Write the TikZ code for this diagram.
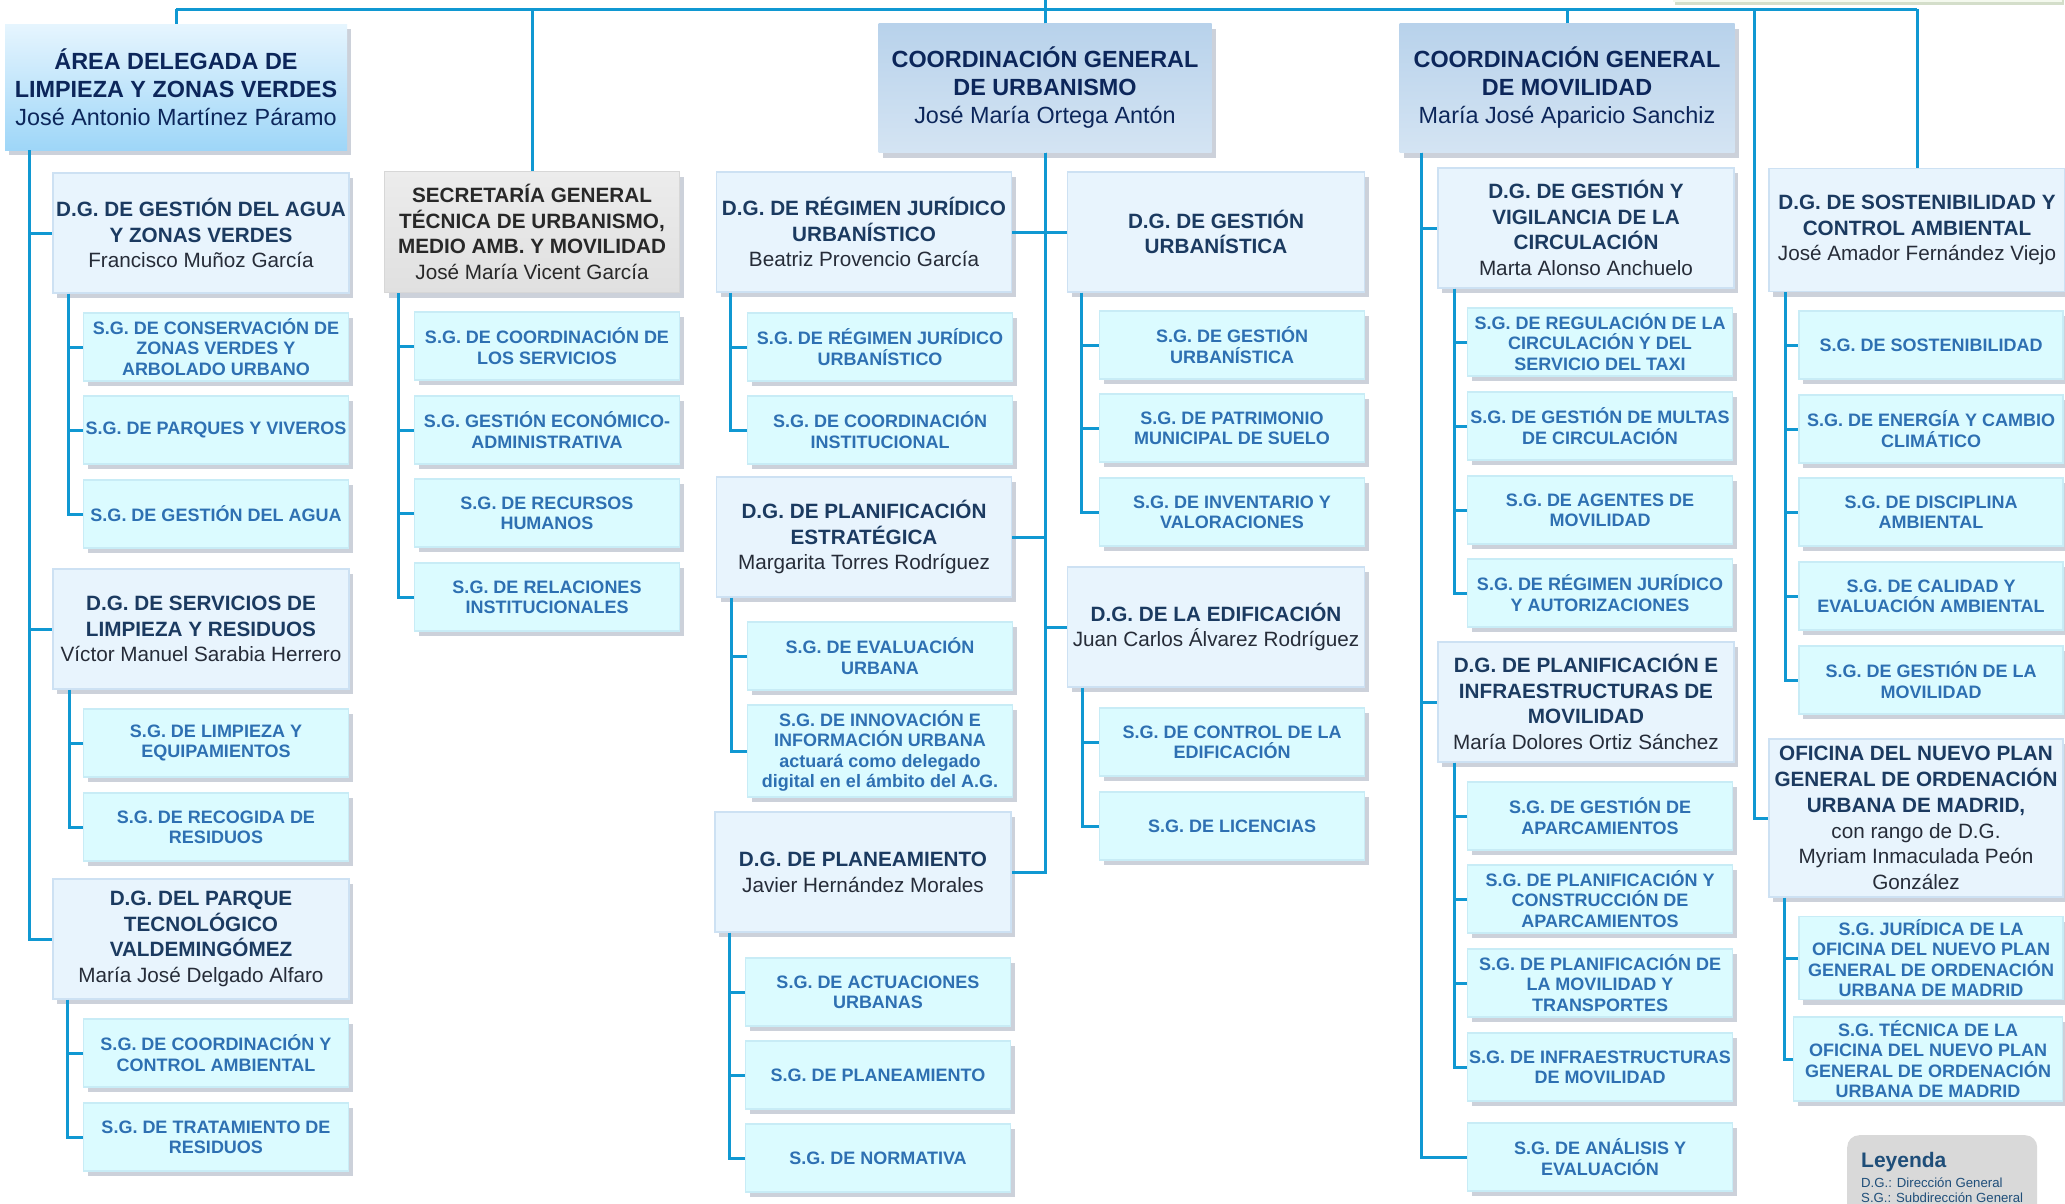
\documentclass[tikz,border=0pt]{standalone}
\usepackage{fontspec}
\setmainfont{Liberation Sans}
\usetikzlibrary{shadows}

\definecolor{linecol}{RGB}{16,152,210}
\definecolor{topcol}{RGB}{12,38,90}
\definecolor{dgcol}{RGB}{27,58,96}
\definecolor{namecol}{RGB}{38,44,56}
\definecolor{sgcol}{RGB}{46,112,178}
\definecolor{seccol}{RGB}{40,40,40}
\definecolor{legcol}{RGB}{31,78,121}
\definecolor{shadowcol}{RGB}{110,125,150}
\definecolor{greenshadow}{RGB}{170,190,150}
\definecolor{dgfill}{RGB}{232,244,253}
\definecolor{dgline}{RGB}{205,225,243}
\definecolor{sgfill}{RGB}{219,251,255}
\definecolor{sgline}{RGB}{200,236,246}
\definecolor{legfill}{RGB}{217,217,217}
\definecolor{palegreen}{RGB}{244,249,238}

\newcommand{\persona}[1]{{\mdseries #1}}
\newcommand{\dgpersona}[1]{{\mdseries\color{namecol}#1}}

\tikzset{
  conn/.style={draw=linecol, line width=3pt},
  box/.style={rectangle, align=center, inner sep=0pt,
    drop shadow={shadow xshift=4pt, shadow yshift=-5pt, fill=shadowcol, opacity=.35}},
  topbox/.style={box, text=topcol, font=\fontsize{23.4}{28}\selectfont\bfseries},
  areabox/.style={topbox, top color={rgb,255:red,230;green,245;blue,254}, bottom color={rgb,255:red,158;green,214;blue,248}},
  coordbox/.style={topbox, top color={rgb,255:red,184;green,210;blue,235}, bottom color={rgb,255:red,212;green,228;blue,243}},
  dgbox/.style={box, fill=dgfill, draw=dgline, line width=1.5pt, text=dgcol,
    minimum width=296pt, minimum height=120pt, font=\fontsize{20.7}{25.8}\selectfont\bfseries},
  secbox/.style={dgbox, fill=none, top color={rgb,255:red,236;green,236;blue,236}, bottom color={rgb,255:red,224;green,224;blue,224}, draw={rgb,255:red,215;green,215;blue,215}, text=seccol},
  sgbox/.style={box, fill=sgfill, draw=sgline, line width=1.5pt, text=sgcol,
    minimum width=265pt, minimum height=68pt, font=\fontsize{18}{20.4}\selectfont\bfseries},
  legbox/.style={rectangle, fill=legfill, rounded corners=12pt, inner sep=0pt},
  legtext/.style={anchor=base west, inner sep=0pt, text=legcol}
}

\begin{document}
\begin{tikzpicture}[x=1pt,y=-1pt]
\path[use as bounding box, fill=white] (0,0) rectangle (2065,1203);

% upper box, cut off by the page
\path[fill=palegreen, drop shadow={shadow xshift=2pt, shadow yshift=-3pt, fill=greenshadow, opacity=.5}] (1673,-40) rectangle (2062,2);

\coordinate (top0) at (0,0);
\coordinate (top) at (0,9);
\coordinate (ofitop) at (1754,9);

% cabeceras
\node[areabox, minimum width=342pt, minimum height=126pt] (area) at (176,87)
  {ÁREA DELEGADA DE\\LIMPIEZA Y ZONAS VERDES\\\persona{José Antonio Martínez Páramo}};
\node[secbox, minimum width=295pt, minimum height=121pt] (sec) at (532,232)
  {SECRETARÍA GENERAL\\TÉCNICA DE URBANISMO,\\MEDIO AMB. Y MOVILIDAD\\\persona{José María Vicent García}};
\node[coordbox, minimum width=333pt, minimum height=129pt] (urb) at (1045,88)
  {COORDINACIÓN GENERAL\\DE URBANISMO\\\persona{José María Ortega Antón}};
\node[coordbox, minimum width=335pt, minimum height=129pt] (mov) at (1567,88)
  {COORDINACIÓN GENERAL\\DE MOVILIDAD\\\persona{María José Aparicio Sanchiz}};

% limpieza y zonas verdes
\node[dgbox] (dgagua) at (201,233)
  {D.G. DE GESTIÓN DEL AGUA\\Y ZONAS VERDES\\\dgpersona{Francisco Muñoz García}};
\node[sgbox] (sgcons) at (216,347) {S.G. DE CONSERVACIÓN DE\\ZONAS VERDES Y\\ARBOLADO URBANO};
\node[sgbox] (sgparq) at (216,430) {S.G. DE PARQUES Y VIVEROS};
\node[sgbox] (sgagua) at (216,514) {S.G. DE GESTIÓN DEL AGUA};
\node[dgbox] (dglimp) at (201,629)
  {D.G. DE SERVICIOS DE\\LIMPIEZA Y RESIDUOS\\\dgpersona{Víctor Manuel Sarabia Herrero}};
\node[sgbox] (sglimp) at (216,743) {S.G. DE LIMPIEZA Y\\EQUIPAMIENTOS};
\node[sgbox] (sgrecog) at (216,827) {S.G. DE RECOGIDA DE\\RESIDUOS};
\node[dgbox] (dgparque) at (201,939)
  {D.G. DEL PARQUE\\TECNOLÓGICO\\VALDEMINGÓMEZ\\\dgpersona{María José Delgado Alfaro}};
\node[sgbox] (sgcoord) at (216,1053) {S.G. DE COORDINACIÓN Y\\CONTROL AMBIENTAL};
\node[sgbox] (sgtrat) at (216,1137) {S.G. DE TRATAMIENTO DE\\RESIDUOS};

% secretaria general tecnica
\node[sgbox] (sgcserv) at (547,346) {S.G. DE COORDINACIÓN DE\\LOS SERVICIOS};
\node[sgbox] (sgeco) at (547,430) {S.G. GESTIÓN ECONÓMICO-\\ADMINISTRATIVA};
\node[sgbox] (sgrrhh) at (547,513) {S.G. DE RECURSOS\\HUMANOS};
\node[sgbox] (sgrel) at (547,597) {S.G. DE RELACIONES\\INSTITUCIONALES};

% urbanismo
\node[dgbox, minimum width=295pt] (dgrj) at (864,232)
  {D.G. DE RÉGIMEN JURÍDICO\\URBANÍSTICO\\\dgpersona{Beatriz Provencio García}};
\node[sgbox] (sgrju) at (880,347) {S.G. DE RÉGIMEN JURÍDICO\\URBANÍSTICO};
\node[sgbox] (sgcinst) at (880,430) {S.G. DE COORDINACIÓN\\INSTITUCIONAL};
\node[dgbox, minimum width=295pt] (dgpe) at (864,537)
  {D.G. DE PLANIFICACIÓN\\ESTRATÉGICA\\\dgpersona{Margarita Torres Rodríguez}};
\node[sgbox] (sgeval) at (880,656) {S.G. DE EVALUACIÓN\\URBANA};
\node[sgbox, minimum height=92pt] (sginnov) at (880,751)
  {S.G. DE INNOVACIÓN E\\INFORMACIÓN URBANA\\actuará como delegado\\digital en el ámbito del A.G.};
\node[dgbox] (dgplan) at (863,872)
  {D.G. DE PLANEAMIENTO\\\dgpersona{Javier Hernández Morales}};
\node[sgbox] (sgactu) at (878,992) {S.G. DE ACTUACIONES\\URBANAS};
\node[sgbox] (sgplan) at (878,1075) {S.G. DE PLANEAMIENTO};
\node[sgbox] (sgnorm) at (878,1158) {S.G. DE NORMATIVA};

\node[dgbox, minimum width=297pt] (dggu) at (1216,232) {D.G. DE GESTIÓN\\URBANÍSTICA};
\node[sgbox] (sggu) at (1232,345) {S.G. DE GESTIÓN\\URBANÍSTICA};
\node[sgbox] (sgpatr) at (1232,428) {S.G. DE PATRIMONIO\\MUNICIPAL DE SUELO};
\node[sgbox] (sginv) at (1232,512) {S.G. DE INVENTARIO Y\\VALORACIONES};
\node[dgbox, minimum width=297pt] (dgedif) at (1216,627)
  {D.G. DE LA EDIFICACIÓN\\\dgpersona{Juan Carlos Álvarez Rodríguez}};
\node[sgbox] (sgcedif) at (1232,742) {S.G. DE CONTROL DE LA\\EDIFICACIÓN};
\node[sgbox] (sglic) at (1232,826) {S.G. DE LICENCIAS};

% movilidad
\node[dgbox] (dggv) at (1586,228)
  {D.G. DE GESTIÓN Y\\VIGILANCIA DE LA\\CIRCULACIÓN\\\dgpersona{Marta Alonso Anchuelo}};
\node[sgbox] (sgreg) at (1600,342) {S.G. DE REGULACIÓN DE LA\\CIRCULACIÓN Y DEL\\SERVICIO DEL TAXI};
\node[sgbox] (sgmult) at (1600,426) {S.G. DE GESTIÓN DE MULTAS\\DE CIRCULACIÓN};
\node[sgbox] (sgagen) at (1600,510) {S.G. DE AGENTES DE\\MOVILIDAD};
\node[sgbox] (sgrja) at (1600,593) {S.G. DE RÉGIMEN JURÍDICO\\Y AUTORIZACIONES};
\node[dgbox] (dgpi) at (1586,702)
  {D.G. DE PLANIFICACIÓN E\\INFRAESTRUCTURAS DE\\MOVILIDAD\\\dgpersona{María Dolores Ortiz Sánchez}};
\node[sgbox] (sgapar) at (1600,816) {S.G. DE GESTIÓN DE\\APARCAMIENTOS};
\node[sgbox] (sgpcons) at (1600,899) {S.G. DE PLANIFICACIÓN Y\\CONSTRUCCIÓN DE\\APARCAMIENTOS};
\node[sgbox] (sgpmov) at (1600,983) {S.G. DE PLANIFICACIÓN DE\\LA MOVILIDAD Y\\TRANSPORTES};
\node[sgbox] (sginfra) at (1600,1067) {S.G. DE INFRAESTRUCTURAS\\DE MOVILIDAD};
\node[sgbox] (sganal) at (1600,1157) {S.G. DE ANÁLISIS Y\\EVALUACIÓN};

% sostenibilidad y oficina del plan
\node[dgbox, minimum height=123pt] (dgsost) at (1917,230)
  {D.G. DE SOSTENIBILIDAD Y\\CONTROL AMBIENTAL\\\dgpersona{José Amador Fernández Viejo}};
\node[sgbox, minimum width=264pt] (sgsost) at (1931,345) {S.G. DE SOSTENIBILIDAD};
\node[sgbox, minimum width=264pt] (sgener) at (1931,429) {S.G. DE ENERGÍA Y CAMBIO\\CLIMÁTICO};
\node[sgbox, minimum width=264pt] (sgdisc) at (1931,512) {S.G. DE DISCIPLINA\\AMBIENTAL};
\node[sgbox, minimum width=264pt] (sgcal) at (1931,596) {S.G. DE CALIDAD Y\\EVALUACIÓN AMBIENTAL};
\node[sgbox, minimum width=264pt] (sggmov) at (1931,680) {S.G. DE GESTIÓN DE LA\\MOVILIDAD};
\node[dgbox, minimum width=294pt, minimum height=158pt] (ofi) at (1916,818)
  {OFICINA DEL NUEVO PLAN\\GENERAL DE ORDENACIÓN\\URBANA DE MADRID,\\\dgpersona{con rango de D.G.}\\\dgpersona{Myriam Inmaculada Peón}\\\dgpersona{González}};
\node[sgbox, minimum width=264pt, minimum height=83pt] (sgjur) at (1931,958)
  {S.G. JURÍDICA DE LA\\OFICINA DEL NUEVO PLAN\\GENERAL DE ORDENACIÓN\\URBANA DE MADRID};
\node[sgbox, minimum width=269pt, minimum height=84pt] (sgtec) at (1928,1059)
  {S.G. TÉCNICA DE LA\\OFICINA DEL NUEVO PLAN\\GENERAL DE ORDENACIÓN\\URBANA DE MADRID};

% leyenda
\node[legbox, minimum width=190pt, minimum height=95pt, anchor=north west] (ley) at (1847,1135) {};
\node[legtext, font=\fontsize{21}{24}\selectfont\bfseries] (leytit) at (1861,1167) {Leyenda};
\node[legtext, font=\fontsize{13.2}{15}\selectfont] (leydg) at (1861,1187) {D.G.: Dirección General};
\node[legtext, font=\fontsize{13.2}{15}\selectfont] (leysg) at (1861,1202) {S.G.: Subdirección General};

% lineas de dependencia
\draw[conn] (area.north |- top) -- (dgsost.north |- top);
\foreach \n in {area,sec,urb,mov,dgsost}
{
\draw[conn] (\n.north) -- (\n.north |- top);
}
\draw[conn] (urb.north) -- (urb.north |- top0);
\draw[conn] (ofitop) |- (ofi.west);

\foreach \d in {dgagua,dglimp,dgparque}
  \draw[conn] ([xshift=25pt]area.south west) |- (\d.west);
\foreach \d in {dgrj,dgpe,dgplan}
  \draw[conn] (urb.south) |- (\d.east);
\foreach \d in {dggu,dgedif}
  \draw[conn] (urb.south) |- (\d.west);
\foreach \d in {dggv,dgpi,sganal}
  \draw[conn] ([xshift=22pt]mov.south west) |- (\d.west);

\foreach \s in {sgcons,sgparq,sgagua}
  \draw[conn] ([xshift=16pt]dgagua.south west) |- (\s.west);
\foreach \s in {sglimp,sgrecog}
  \draw[conn] ([xshift=17pt]dglimp.south west) |- (\s.west);
\foreach \s in {sgcoord,sgtrat}
  \draw[conn] ([xshift=15pt]dgparque.south west) |- (\s.west);
\foreach \s in {sgcserv,sgeco,sgrrhh,sgrel}
  \draw[conn] ([xshift=15pt]sec.south west) |- (\s.west);
\foreach \s in {sgrju,sgcinst}
  \draw[conn] ([xshift=15pt]dgrj.south west) |- (\s.west);
\foreach \s in {sgeval,sginnov}
  \draw[conn] ([xshift=16pt]dgpe.south west) |- (\s.west);
\foreach \s in {sgactu,sgplan,sgnorm}
  \draw[conn] ([xshift=15pt]dgplan.south west) |- (\s.west);
\foreach \s in {sggu,sgpatr,sginv}
  \draw[conn] ([xshift=15pt]dggu.south west) |- (\s.west);
\foreach \s in {sgcedif,sglic}
  \draw[conn] ([xshift=16pt]dgedif.south west) |- (\s.west);
\foreach \s in {sgreg,sgmult,sgagen,sgrja}
  \draw[conn] ([xshift=17pt]dggv.south west) |- (\s.west);
\foreach \s in {sgapar,sgpcons,sgpmov,sginfra}
  \draw[conn] ([xshift=17pt]dgpi.south west) |- (\s.west);
\foreach \s in {sgsost,sgener,sgdisc,sgcal,sggmov}
  \draw[conn] ([xshift=17pt]dgsost.south west) |- (\s.west);
\foreach \s in {sgjur,sgtec}
  \draw[conn] ([xshift=16pt]ofi.south west) |- (\s.west);

\end{tikzpicture}
\end{document}
